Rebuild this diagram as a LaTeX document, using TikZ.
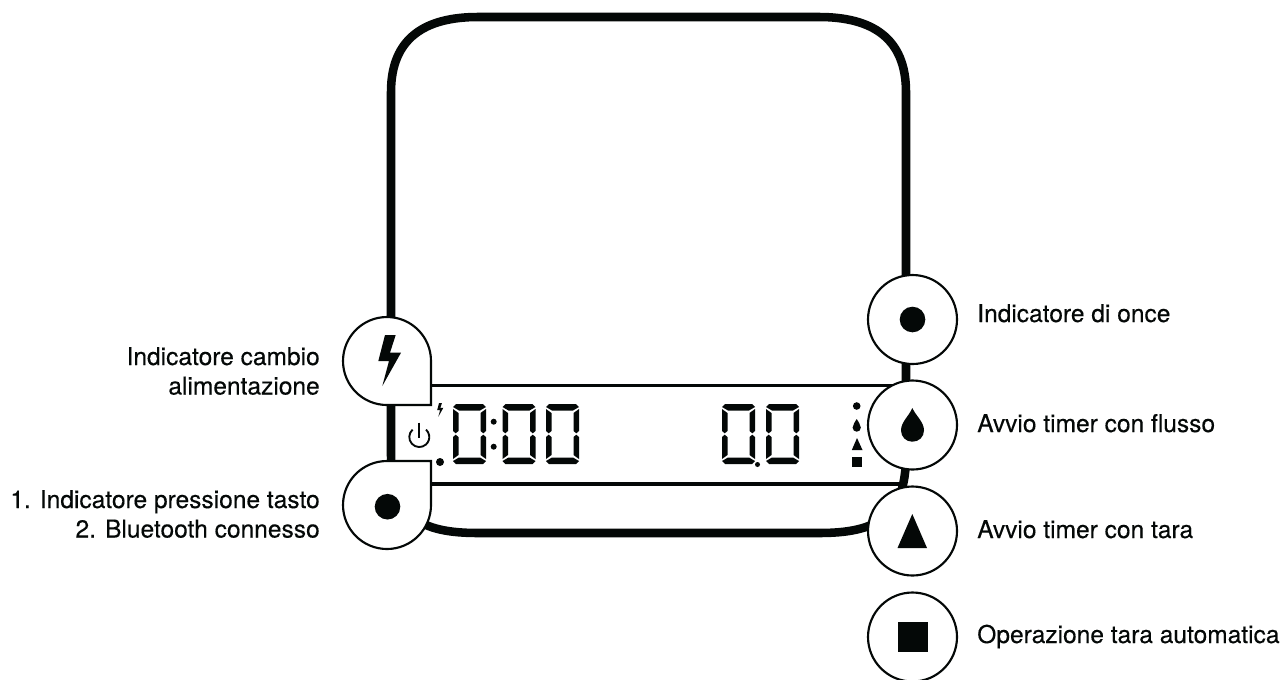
\documentclass[tikz,border=0pt]{standalone}
\usepackage{fontspec}
\setmainfont[FakeBold=0.25]{TeX Gyre Heros}
\newcommand{\segdigit}[2]{%
 \begin{scope}[shift={(#1,#2)}]
 \fill[ink] (3,0)--(30,0)--(33,3)--(27,6.5)--(6,6.5)--(0,3)--cycle;
 \fill[ink] (3,60)--(30,60)--(33,57)--(27,53.5)--(6,53.5)--(0,57)--cycle;
 \fill[ink] (0,5)--(5.5,9)--(5.5,27)--(2.7,29.3)--(0,27)--cycle;
 \fill[ink] (0,33)--(2.7,30.7)--(5.5,33)--(5.5,51)--(0,55)--cycle;
 \fill[ink] (33,5)--(27.5,9)--(27.5,27)--(30.3,29.3)--(33,27)--cycle;
 \fill[ink] (33,33)--(30.3,30.7)--(27.5,33)--(27.5,51)--(33,55)--cycle;
 \end{scope}}
\newcommand{\boltpath}{(385,335)--(395.7,335)--(390,352.7)--(401,352.7)--(382.3,386)--(389,361)--(378.3,361)--cycle}
\definecolor{ink}{HTML}{040807}
\tikzset{
 x=0.75pt,y=-0.75pt,
 casing/.style={draw=ink,line width=6.4pt},
 lcdline/.style={draw=ink,line width=2.75pt},
 bubble/.style={draw=ink,fill=white,line width=1.6pt},
 glyph/.style={fill=ink,draw=none},
 lab/.style={font=\fontsize{18.4pt}{22pt}\selectfont,text=ink,inner sep=0pt,anchor=base east},
 rlab/.style={font=\fontsize{18.4pt}{22pt}\selectfont,text=ink,inner sep=0pt,anchor=base west},
}
\begin{document}
\begin{tikzpicture}
\useasboundingbox (0,0) rectangle (1280,679);
\fill[white] (0,0) rectangle (1280,679);
\clip (0,0) rectangle (1280,679);
% casing
\draw[casing] (391,455) -- (391,92) .. controls (391,38) and (425,17) .. (478,17)
  -- (819,17) .. controls (872,17) and (906,38) .. (906,92) -- (906,455)
  .. controls (906,518) and (875,533) .. (819,533) -- (478,533)
  .. controls (422,533) and (391,518) .. (391,455) -- cycle;
% display lines
\draw[lcdline] (425,385.5) -- (906,385.5);
\draw[lcdline] (425,484) -- (906,484);
% bubbles
\path[bubble] (431,405) -- (387,405) arc[start angle=90,end angle=360,radius=44] -- cycle;
\path[bubble] (431,461) -- (387,461) arc[start angle=270,end angle=0,radius=44] -- cycle;
\path[bubble] (912.5,319.5) circle[radius=44.5];
\path[bubble] (912.5,425) circle[radius=44.5];
\path[bubble] (912.5,531) circle[radius=44.5];
\path[bubble] (912.5,637) circle[radius=44.5];
% big glyphs
\fill[glyph] \boltpath;
\fill[glyph] (387.5,506.7) circle[radius=12.8];
\fill[glyph] (912.5,319.5) circle[radius=12.8];
\fill[glyph] (912.3,408) .. controls (909,416) and (901,422) .. (901,430.3)
  .. controls (901,437) and (906,441.7) .. (912.3,441.7)
  .. controls (919,441.7) and (924,437) .. (924,430.3)
  .. controls (924,422) and (916,416) .. (912.3,408) -- cycle;
\fill[glyph] (912.3,514) -- (927,548) -- (897.5,548) -- cycle;
\fill[glyph] (897.5,622) rectangle (927.5,651.5);
% lcd icons
\begin{scope}[shift={(438.3,403)},scale=0.27,shift={(-382.3,-335)}]
\fill[glyph] \boltpath;
\end{scope}
\draw[ink,line width=1.4pt] (412.6,429.6) arc[start angle=228,end angle=-48,radius=10];
\draw[ink,line width=1.4pt] (419.3,422.5) -- (419.3,438);
\fill[glyph] (440,462) circle[radius=4];
\segdigit{453}{404}
\segdigit{502.5}{404}
\segdigit{546}{404}
\fill[glyph] (493.7,421.7) circle[radius=3];
\fill[glyph] (493.7,446.7) circle[radius=3];
\segdigit{722}{404}
\segdigit{766}{404}
\fill[glyph] (757.5,464.5) circle[radius=2.5];
\fill[glyph] (856.7,406) circle[radius=3.8];
\fill[glyph] (856.7,419) .. controls (855.5,422) and (852.6,424) .. (852.6,427.6)
  .. controls (852.6,430) and (854.5,431.7) .. (856.7,431.7)
  .. controls (859,431.7) and (860.8,430) .. (860.8,427.6)
  .. controls (860.8,424) and (858,422) .. (856.7,419) -- cycle;
\fill[glyph] (857,438) -- (862.5,450) -- (851.8,450) -- cycle;
\fill[glyph] (852,456.7) rectangle (862.3,466.7);
% labels
\node[lab] (a1) at (320,365) {Indicatore cambio};
\node[lab] (a2) at (320,394.5) {alimentazione};
\node[lab] (b1) at (320,508) {1. Indicatore pressione tasto};
\node[lab] (b2) at (320,537.5) {2. Bluetooth connesso};
\node[rlab] (c1) at (977,322) {Indicatore di once};
\node[rlab] (c2) at (977,432) {Avvio timer con flusso};
\node[rlab] (c3) at (977,538) {Avvio timer con tara};
\node[rlab] (c4) at (977,643) {Operazione tara automatica};
\end{tikzpicture}
\end{document}
